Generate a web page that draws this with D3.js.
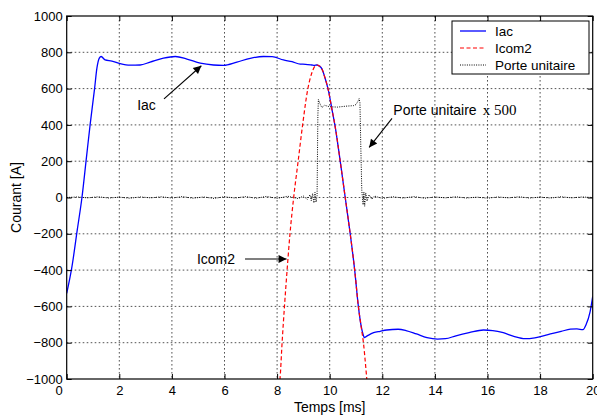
<!DOCTYPE html>
<html><head><meta charset="utf-8">
<script src="https://cdn.jsdelivr.net/npm/d3@7"></script>
<style>
html,body{margin:0;padding:0;background:#fff;}
text{font-family:"Liberation Sans",Arial,sans-serif;}
</style></head>
<body>
<svg id="chart" width="597" height="415"></svg>
<script>
// ---- data ----
const xTicks = [0,2,4,6,8,10,12,14,16,18,20];
const yTicks = [-1000,-800,-600,-400,-200,0,200,400,600,800,1000];

const tIac = [0,0.2,0.4,0.58,0.75,0.89,1.06,1.15,1.24,1.31,1.46,1.72,2.03,2.41,2.79,3.17,3.68,4.13,4.57,5.08,5.58,5.96,6.47,6.98,7.48,7.81,8.24,8.57,8.88,9.08,9.32,9.42,9.50,9.60,9.70,9.82,9.95,10.08,10.22,10.40,10.59,10.78,10.95,11.09,11.20,11.27,11.32,11.40,11.48,11.67,11.92,12.17,12.6,12.9,13.3,13.7,14.1,14.4,14.8,15.3,15.85,16.2,16.6,17.0,17.43,17.8,18.3,18.8,19.15,19.4,19.63,19.75,19.9,20];
const iac  = [-528,-381,-180,0,220,400,600,714,768,777,758,752,738,729,730,746,768,777,763,740,730,728,746,767,777,776,758,748,735,734,730,728,730,725,710,660,590,490,380,200,0,-200,-400,-600,-712,-755,-772,-765,-758,-745,-737,-730,-726,-733,-752,-772,-780,-778,-762,-745,-730,-733,-745,-765,-778,-773,-755,-738,-725,-724,-728,-700,-630,-545];

const tIcom2 = [8.08,8.11,8.19,8.28,8.38,8.49,8.63,8.80,8.97,9.17,9.33,9.42,9.50,9.60,9.70,9.82,9.95,10.08,10.22,10.40,10.59,10.78,10.95,11.09,11.20,11.29,11.35,11.41,11.44];
const icom2  = [-1040,-1000,-800,-600,-400,-200,0,200,400,600,690,720,730,725,710,660,590,490,380,200,0,-200,-400,-600,-715,-810,-900,-1000,-1050];

const tPorte = [0,0.4,0.8,1.2,1.6,2.0,2.4,2.8,3.2,3.6,4.0,4.4,4.8,5.2,5.6,6.0,6.4,6.8,7.2,7.6,8.0,8.4,8.8,9.0,9.15,9.25,9.3,9.35,9.4,9.44,9.48,9.52,9.55,9.57,9.62,9.7,9.8,10.0,10.3,10.6,10.9,11.0,11.08,11.12,11.15,11.18,11.22,11.27,11.3,11.33,11.37,11.42,11.5,11.6,11.7,12.0,12.4,12.8,13.2,13.6,14.0,14.4,14.8,15.2,15.6,16.0,16.4,16.8,17.2,17.6,18.0,18.4,18.8,19.2,19.6,20];
const porte  = [0,3,-2,4,-3,2,-4,3,-2,4,-3,5,-4,3,-5,4,-3,5,-4,6,-5,7,-6,8,-10,15,-18,22,-30,28,-25,10,450,540,520,495,508,500,498,503,506,512,532,545,522,300,40,-40,30,-48,25,-20,15,-10,8,-5,4,-3,5,-4,3,-2,4,-3,2,-4,3,-2,4,-3,2,-3,4,-2,3,0];

// annotation anchors in data units (t [ms], value [A])
const annIac   = {text:"Iac", tx:2.68, ty:480, from:[3.70,543], to:[5.12,726]};
const annIcom2 = {text:"Icom2", tx:4.95, ty:-366, from:[6.78,-339], to:[8.36,-339]};
const annPorte = {text:"Porte unitaire", extra:"x 500", tx:12.42, ty:457, from:[12.37,436], to:[11.5,276]};

const legendNames = ["Iac","Icom2","Porte unitaire"];

// ---- layout ----
const svg = d3.select("#chart");
const L = 66.7, R = 592.7, T = 16, B = 379;
const x = d3.scaleLinear().domain([0,20]).range([L,R]);
const y = d3.scaleLinear().domain([-1000,1000]).range([B,T]);

svg.append("rect").attr("width",597).attr("height",415).attr("fill","#fff");

// grid
const grid = svg.append("g").attr("stroke","#000").attr("stroke-width",0.8).attr("stroke-dasharray","1.6,2.4").attr("opacity",0.85);
xTicks.slice(1,-1).forEach(v=>grid.append("line").attr("x1",x(v)).attr("x2",x(v)).attr("y1",T).attr("y2",B));
yTicks.slice(1,-1).forEach(v=>grid.append("line").attr("y1",y(v)).attr("y2",y(v)).attr("x1",L).attr("x2",R));

// clip
svg.append("clipPath").attr("id","clip").append("rect").attr("x",L).attr("y",T).attr("width",R-L).attr("height",B-T);
const plot = svg.append("g").attr("clip-path","url(#clip)");

const mkLine = (ts,curve)=>d3.line().x((d,i)=>x(ts[i])).y(d=>y(d)).curve(curve);

plot.append("path").datum(porte).attr("d",mkLine(tPorte,d3.curveLinear)).attr("fill","none")
  .attr("stroke","#000").attr("stroke-width",1).attr("stroke-dasharray","1,1.3");
plot.append("path").datum(iac).attr("d",mkLine(tIac,d3.curveMonotoneX)).attr("fill","none")
  .attr("stroke","#0000ff").attr("stroke-width",1.3);
plot.append("path").datum(icom2).attr("d",mkLine(tIcom2,d3.curveMonotoneX)).attr("fill","none")
  .attr("stroke","#ff0000").attr("stroke-width",1.2).attr("stroke-dasharray","4,2.5");

// axes
const fs = "13px";
const ax = svg.append("g").attr("transform",`translate(0,${B})`)
  .call(d3.axisBottom(x).tickValues(xTicks).tickSize(-5).tickPadding(7).tickFormat(d3.format("d")));
const ay = svg.append("g").attr("transform",`translate(${L},0)`)
  .call(d3.axisLeft(y).tickValues(yTicks).tickSize(-5).tickPadding(4).tickFormat(d3.format("d")));
const axT = svg.append("g").attr("transform",`translate(0,${T})`)
  .call(d3.axisTop(x).tickValues(xTicks).tickSize(-5).tickFormat(""));
const ayR = svg.append("g").attr("transform",`translate(${R},0)`)
  .call(d3.axisRight(y).tickValues(yTicks).tickSize(-5).tickFormat(""));
[ax,ay,axT,ayR].forEach(g=>{
  g.select(".domain").remove();
  g.selectAll(".tick line").attr("stroke","#000").attr("stroke-width",1);
  g.selectAll("text").attr("fill","#000").style("font-size",fs).style("font-family","'Liberation Sans',Arial,sans-serif");
});
ax.selectAll(".tick").filter(d=>d===0).select("text").attr("dx",-8);
svg.append("rect").attr("x",L).attr("y",T).attr("width",R-L).attr("height",B-T)
  .attr("fill","none").attr("stroke","#000").attr("stroke-width",1.2);

// axis titles
svg.append("text").attr("x",(L+R)/2).attr("y",412).attr("text-anchor","middle").style("font-size","14px").text("Temps [ms]");
svg.append("text").attr("transform",`translate(21,${(T+B)/2}) rotate(-90)`).attr("text-anchor","middle").style("font-size","14px").text("Courant [A]");

// annotations
svg.append("defs").append("marker").attr("id","ah").attr("viewBox","0 0 10 10").attr("refX",10).attr("refY",5)
  .attr("markerWidth",11).attr("markerHeight",8).attr("markerUnits","userSpaceOnUse").attr("orient","auto")
  .append("path").attr("d","M0,0L10,5L0,10Z").attr("fill","#000");
function ann(a){
  svg.append("line").attr("x1",x(a.from[0])).attr("y1",y(a.from[1])).attr("x2",x(a.to[0])).attr("y2",y(a.to[1]))
    .attr("stroke","#000").attr("stroke-width",1.1).attr("marker-end","url(#ah)");
  const t = svg.append("text").attr("x",x(a.tx)).attr("y",y(a.ty)).style("font-size","14px").text(a.text);
  if(a.extra){
    t.append("tspan").attr("dx",6).style("font-family","'Liberation Serif','Times New Roman',serif").style("font-size","15px").text(a.extra);
  }
}
[annIac,annIcom2,annPorte].forEach(ann);

// legend
const lg = svg.append("g").attr("transform","translate(452,21)");
lg.append("rect").attr("width",137).attr("height",53).attr("fill","#fff").attr("stroke","#000").attr("stroke-width",1);
const styles = [
  {c:"#0000ff",w:1.3,d:null},
  {c:"#ff0000",w:1.2,d:"4,2.5"},
  {c:"#000",w:1,d:"1,1.3"}
];
legendNames.forEach((n,i)=>{
  const yy = 10 + i*17;
  lg.append("line").attr("x1",8).attr("x2",34).attr("y1",yy).attr("y2",yy)
    .attr("stroke",styles[i].c).attr("stroke-width",styles[i].w).attr("stroke-dasharray",styles[i].d);
  lg.append("text").attr("x",43).attr("y",yy+5).style("font-size","13.5px").text(n);
});
</script>
</body></html>
